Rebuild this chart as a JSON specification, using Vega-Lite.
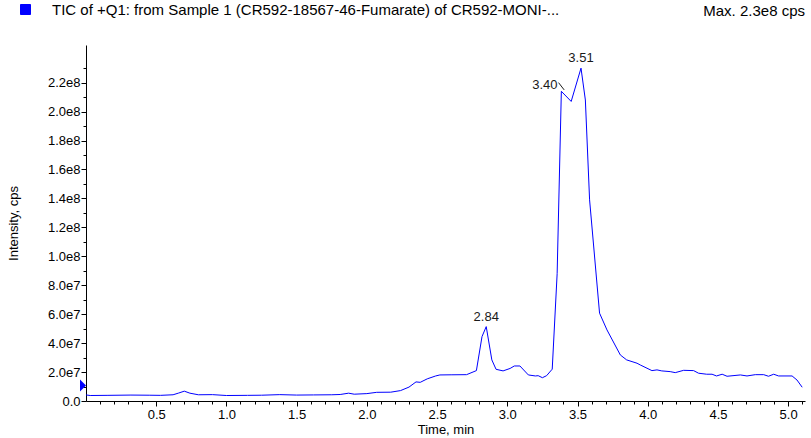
{
  "$schema": "https://vega.github.io/schema/vega-lite/v6.json",
  "width": 719,
  "height": 356,
  "autosize": {"type": "none"},
  "padding": {"left": 86, "top": 45, "right": 6, "bottom": 37},
  "background": "white",
  "config": {"font": "Liberation Sans", "view": {"stroke": null}},
  "title": {"text": "Max. 2.3e8 cps", "anchor": "end", "frame": "group", "fontSize": 15, "fontWeight": "normal", "color": "#000000", "offset": -17},
  "datasets": {
    "trace": [
      {"t": 0.0, "intensity": 4.2e6, "series": "TIC of +Q1: from Sample 1 (CR592-18567-46-Fumarate) of CR592-MONI-..."},
      {"t": 0.03, "intensity": 3.8e6, "series": "TIC of +Q1: from Sample 1 (CR592-18567-46-Fumarate) of CR592-MONI-..."},
      {"t": 0.15, "intensity": 3.9e6, "series": "TIC of +Q1: from Sample 1 (CR592-18567-46-Fumarate) of CR592-MONI-..."},
      {"t": 0.32, "intensity": 4.1e6, "series": "TIC of +Q1: from Sample 1 (CR592-18567-46-Fumarate) of CR592-MONI-..."},
      {"t": 0.45, "intensity": 4.0e6, "series": "TIC of +Q1: from Sample 1 (CR592-18567-46-Fumarate) of CR592-MONI-..."},
      {"t": 0.53, "intensity": 3.9e6, "series": "TIC of +Q1: from Sample 1 (CR592-18567-46-Fumarate) of CR592-MONI-..."},
      {"t": 0.62, "intensity": 4.3e6, "series": "TIC of +Q1: from Sample 1 (CR592-18567-46-Fumarate) of CR592-MONI-..."},
      {"t": 0.66, "intensity": 5.5e6, "series": "TIC of +Q1: from Sample 1 (CR592-18567-46-Fumarate) of CR592-MONI-..."},
      {"t": 0.70, "intensity": 6.8e6, "series": "TIC of +Q1: from Sample 1 (CR592-18567-46-Fumarate) of CR592-MONI-..."},
      {"t": 0.74, "intensity": 5.4e6, "series": "TIC of +Q1: from Sample 1 (CR592-18567-46-Fumarate) of CR592-MONI-..."},
      {"t": 0.80, "intensity": 4.3e6, "series": "TIC of +Q1: from Sample 1 (CR592-18567-46-Fumarate) of CR592-MONI-..."},
      {"t": 0.90, "intensity": 4.4e6, "series": "TIC of +Q1: from Sample 1 (CR592-18567-46-Fumarate) of CR592-MONI-..."},
      {"t": 1.00, "intensity": 3.8e6, "series": "TIC of +Q1: from Sample 1 (CR592-18567-46-Fumarate) of CR592-MONI-..."},
      {"t": 1.15, "intensity": 3.9e6, "series": "TIC of +Q1: from Sample 1 (CR592-18567-46-Fumarate) of CR592-MONI-..."},
      {"t": 1.25, "intensity": 4.0e6, "series": "TIC of +Q1: from Sample 1 (CR592-18567-46-Fumarate) of CR592-MONI-..."},
      {"t": 1.38, "intensity": 4.4e6, "series": "TIC of +Q1: from Sample 1 (CR592-18567-46-Fumarate) of CR592-MONI-..."},
      {"t": 1.50, "intensity": 4.1e6, "series": "TIC of +Q1: from Sample 1 (CR592-18567-46-Fumarate) of CR592-MONI-..."},
      {"t": 1.62, "intensity": 4.2e6, "series": "TIC of +Q1: from Sample 1 (CR592-18567-46-Fumarate) of CR592-MONI-..."},
      {"t": 1.75, "intensity": 4.3e6, "series": "TIC of +Q1: from Sample 1 (CR592-18567-46-Fumarate) of CR592-MONI-..."},
      {"t": 1.81, "intensity": 4.5e6, "series": "TIC of +Q1: from Sample 1 (CR592-18567-46-Fumarate) of CR592-MONI-..."},
      {"t": 1.87, "intensity": 5.4e6, "series": "TIC of +Q1: from Sample 1 (CR592-18567-46-Fumarate) of CR592-MONI-..."},
      {"t": 1.91, "intensity": 4.7e6, "series": "TIC of +Q1: from Sample 1 (CR592-18567-46-Fumarate) of CR592-MONI-..."},
      {"t": 2.00, "intensity": 5.1e6, "series": "TIC of +Q1: from Sample 1 (CR592-18567-46-Fumarate) of CR592-MONI-..."},
      {"t": 2.07, "intensity": 6.0e6, "series": "TIC of +Q1: from Sample 1 (CR592-18567-46-Fumarate) of CR592-MONI-..."},
      {"t": 2.17, "intensity": 6.1e6, "series": "TIC of +Q1: from Sample 1 (CR592-18567-46-Fumarate) of CR592-MONI-..."},
      {"t": 2.24, "intensity": 7.2e6, "series": "TIC of +Q1: from Sample 1 (CR592-18567-46-Fumarate) of CR592-MONI-..."},
      {"t": 2.30, "intensity": 9.6e6, "series": "TIC of +Q1: from Sample 1 (CR592-18567-46-Fumarate) of CR592-MONI-..."},
      {"t": 2.35, "intensity": 13.2e6, "series": "TIC of +Q1: from Sample 1 (CR592-18567-46-Fumarate) of CR592-MONI-..."},
      {"t": 2.38, "intensity": 12.9e6, "series": "TIC of +Q1: from Sample 1 (CR592-18567-46-Fumarate) of CR592-MONI-..."},
      {"t": 2.43, "intensity": 15.3e6, "series": "TIC of +Q1: from Sample 1 (CR592-18567-46-Fumarate) of CR592-MONI-..."},
      {"t": 2.49, "intensity": 17.3e6, "series": "TIC of +Q1: from Sample 1 (CR592-18567-46-Fumarate) of CR592-MONI-..."},
      {"t": 2.52, "intensity": 18.0e6, "series": "TIC of +Q1: from Sample 1 (CR592-18567-46-Fumarate) of CR592-MONI-..."},
      {"t": 2.60, "intensity": 18.1e6, "series": "TIC of +Q1: from Sample 1 (CR592-18567-46-Fumarate) of CR592-MONI-..."},
      {"t": 2.71, "intensity": 18.2e6, "series": "TIC of +Q1: from Sample 1 (CR592-18567-46-Fumarate) of CR592-MONI-..."},
      {"t": 2.78, "intensity": 21.0e6, "series": "TIC of +Q1: from Sample 1 (CR592-18567-46-Fumarate) of CR592-MONI-..."},
      {"t": 2.82, "intensity": 44.5e6, "series": "TIC of +Q1: from Sample 1 (CR592-18567-46-Fumarate) of CR592-MONI-..."},
      {"t": 2.85, "intensity": 51.4e6, "series": "TIC of +Q1: from Sample 1 (CR592-18567-46-Fumarate) of CR592-MONI-..."},
      {"t": 2.89, "intensity": 28.4e6, "series": "TIC of +Q1: from Sample 1 (CR592-18567-46-Fumarate) of CR592-MONI-..."},
      {"t": 2.92, "intensity": 21.9e6, "series": "TIC of +Q1: from Sample 1 (CR592-18567-46-Fumarate) of CR592-MONI-..."},
      {"t": 2.97, "intensity": 20.8e6, "series": "TIC of +Q1: from Sample 1 (CR592-18567-46-Fumarate) of CR592-MONI-..."},
      {"t": 3.02, "intensity": 22.5e6, "series": "TIC of +Q1: from Sample 1 (CR592-18567-46-Fumarate) of CR592-MONI-..."},
      {"t": 3.05, "intensity": 24.2e6, "series": "TIC of +Q1: from Sample 1 (CR592-18567-46-Fumarate) of CR592-MONI-..."},
      {"t": 3.09, "intensity": 24.2e6, "series": "TIC of +Q1: from Sample 1 (CR592-18567-46-Fumarate) of CR592-MONI-..."},
      {"t": 3.15, "intensity": 18.0e6, "series": "TIC of +Q1: from Sample 1 (CR592-18567-46-Fumarate) of CR592-MONI-..."},
      {"t": 3.20, "intensity": 17.3e6, "series": "TIC of +Q1: from Sample 1 (CR592-18567-46-Fumarate) of CR592-MONI-..."},
      {"t": 3.22, "intensity": 17.5e6, "series": "TIC of +Q1: from Sample 1 (CR592-18567-46-Fumarate) of CR592-MONI-..."},
      {"t": 3.25, "intensity": 16.1e6, "series": "TIC of +Q1: from Sample 1 (CR592-18567-46-Fumarate) of CR592-MONI-..."},
      {"t": 3.28, "intensity": 17.5e6, "series": "TIC of +Q1: from Sample 1 (CR592-18567-46-Fumarate) of CR592-MONI-..."},
      {"t": 3.32, "intensity": 22.0e6, "series": "TIC of +Q1: from Sample 1 (CR592-18567-46-Fumarate) of CR592-MONI-..."},
      {"t": 3.355, "intensity": 88e6, "series": "TIC of +Q1: from Sample 1 (CR592-18567-46-Fumarate) of CR592-MONI-..."},
      {"t": 3.385, "intensity": 214e6, "series": "TIC of +Q1: from Sample 1 (CR592-18567-46-Fumarate) of CR592-MONI-..."},
      {"t": 3.455, "intensity": 207e6, "series": "TIC of +Q1: from Sample 1 (CR592-18567-46-Fumarate) of CR592-MONI-..."},
      {"t": 3.525, "intensity": 230e6, "series": "TIC of +Q1: from Sample 1 (CR592-18567-46-Fumarate) of CR592-MONI-..."},
      {"t": 3.556, "intensity": 208e6, "series": "TIC of +Q1: from Sample 1 (CR592-18567-46-Fumarate) of CR592-MONI-..."},
      {"t": 3.586, "intensity": 139e6, "series": "TIC of +Q1: from Sample 1 (CR592-18567-46-Fumarate) of CR592-MONI-..."},
      {"t": 3.657, "intensity": 60.7e6, "series": "TIC of +Q1: from Sample 1 (CR592-18567-46-Fumarate) of CR592-MONI-..."},
      {"t": 3.71, "intensity": 49.1e6, "series": "TIC of +Q1: from Sample 1 (CR592-18567-46-Fumarate) of CR592-MONI-..."},
      {"t": 3.805, "intensity": 31.8e6, "series": "TIC of +Q1: from Sample 1 (CR592-18567-46-Fumarate) of CR592-MONI-..."},
      {"t": 3.85, "intensity": 28.4e6, "series": "TIC of +Q1: from Sample 1 (CR592-18567-46-Fumarate) of CR592-MONI-..."},
      {"t": 3.924, "intensity": 26.1e6, "series": "TIC of +Q1: from Sample 1 (CR592-18567-46-Fumarate) of CR592-MONI-..."},
      {"t": 3.947, "intensity": 24.9e6, "series": "TIC of +Q1: from Sample 1 (CR592-18567-46-Fumarate) of CR592-MONI-..."},
      {"t": 4.03, "intensity": 21.0e6, "series": "TIC of +Q1: from Sample 1 (CR592-18567-46-Fumarate) of CR592-MONI-..."},
      {"t": 4.066, "intensity": 21.5e6, "series": "TIC of +Q1: from Sample 1 (CR592-18567-46-Fumarate) of CR592-MONI-..."},
      {"t": 4.10, "intensity": 20.8e6, "series": "TIC of +Q1: from Sample 1 (CR592-18567-46-Fumarate) of CR592-MONI-..."},
      {"t": 4.16, "intensity": 20.3e6, "series": "TIC of +Q1: from Sample 1 (CR592-18567-46-Fumarate) of CR592-MONI-..."},
      {"t": 4.196, "intensity": 19.6e6, "series": "TIC of +Q1: from Sample 1 (CR592-18567-46-Fumarate) of CR592-MONI-..."},
      {"t": 4.256, "intensity": 21.2e6, "series": "TIC of +Q1: from Sample 1 (CR592-18567-46-Fumarate) of CR592-MONI-..."},
      {"t": 4.327, "intensity": 21.0e6, "series": "TIC of +Q1: from Sample 1 (CR592-18567-46-Fumarate) of CR592-MONI-..."},
      {"t": 4.362, "intensity": 19.2e6, "series": "TIC of +Q1: from Sample 1 (CR592-18567-46-Fumarate) of CR592-MONI-..."},
      {"t": 4.42, "intensity": 18.5e6, "series": "TIC of +Q1: from Sample 1 (CR592-18567-46-Fumarate) of CR592-MONI-..."},
      {"t": 4.458, "intensity": 18.5e6, "series": "TIC of +Q1: from Sample 1 (CR592-18567-46-Fumarate) of CR592-MONI-..."},
      {"t": 4.49, "intensity": 17.3e6, "series": "TIC of +Q1: from Sample 1 (CR592-18567-46-Fumarate) of CR592-MONI-..."},
      {"t": 4.53, "intensity": 18.5e6, "series": "TIC of +Q1: from Sample 1 (CR592-18567-46-Fumarate) of CR592-MONI-..."},
      {"t": 4.565, "intensity": 17.1e6, "series": "TIC of +Q1: from Sample 1 (CR592-18567-46-Fumarate) of CR592-MONI-..."},
      {"t": 4.66, "intensity": 18.0e6, "series": "TIC of +Q1: from Sample 1 (CR592-18567-46-Fumarate) of CR592-MONI-..."},
      {"t": 4.707, "intensity": 17.3e6, "series": "TIC of +Q1: from Sample 1 (CR592-18567-46-Fumarate) of CR592-MONI-..."},
      {"t": 4.766, "intensity": 18.2e6, "series": "TIC of +Q1: from Sample 1 (CR592-18567-46-Fumarate) of CR592-MONI-..."},
      {"t": 4.826, "intensity": 18.2e6, "series": "TIC of +Q1: from Sample 1 (CR592-18567-46-Fumarate) of CR592-MONI-..."},
      {"t": 4.86, "intensity": 17.1e6, "series": "TIC of +Q1: from Sample 1 (CR592-18567-46-Fumarate) of CR592-MONI-..."},
      {"t": 4.897, "intensity": 18.5e6, "series": "TIC of +Q1: from Sample 1 (CR592-18567-46-Fumarate) of CR592-MONI-..."},
      {"t": 4.932, "intensity": 17.3e6, "series": "TIC of +Q1: from Sample 1 (CR592-18567-46-Fumarate) of CR592-MONI-..."},
      {"t": 5.028, "intensity": 17.3e6, "series": "TIC of +Q1: from Sample 1 (CR592-18567-46-Fumarate) of CR592-MONI-..."},
      {"t": 5.063, "intensity": 14.5e6, "series": "TIC of +Q1: from Sample 1 (CR592-18567-46-Fumarate) of CR592-MONI-..."},
      {"t": 5.10, "intensity": 9.5e6, "series": "TIC of +Q1: from Sample 1 (CR592-18567-46-Fumarate) of CR592-MONI-..."}
    ],
    "peaks": [
      {"t": 2.85, "intensity": 51.4e6, "label": "2.84"},
      {"t": 3.525, "intensity": 230e6, "label": "3.51"}
    ],
    "leader": [
      {"t": 3.365, "t2": 3.405, "intensity": 220e6, "intensity2": 215e6, "label": "3.40"}
    ],
    "marker": [
      {"t": 0.0, "intensity": 10.7e6}
    ]
  },
  "resolve": {"axis": {"x": "independent", "y": "independent"}},
  "layer": [
    {
      "data": {"name": "trace"},
      "mark": {"type": "line", "strokeWidth": 1, "interpolate": "linear"},
      "encoding": {
        "x": {
          "field": "t", "type": "quantitative",
          "scale": {"domain": [0, 5.12], "nice": false, "zero": false},
          "axis": {
            "orient": "bottom",
            "title": "Time, min",
            "values": [0.5,1.0,1.5,2.0,2.5,3.0,3.5,4.0,4.5,5.0],
            "format": ".1f",
            "tickSize": 5,
            "grid": false,
            "domainColor": "#000000", "tickColor": "#000000",
            "labelColor": "#000000", "titleColor": "#000000",
            "labelFontSize": 13, "titleFontSize": 13, "titleFontWeight": "normal",
            "labelPadding": 2, "titlePadding": 2, "labelFlush": false, "labelOverlap": false
          }
        },
        "y": {
          "field": "intensity", "type": "quantitative",
          "scale": {"domain": [0, 2.46e8], "nice": false},
          "axis": {
            "orient": "left",
            "title": "Intensity, cps",
            "values": [0,2e7,4e7,6e7,8e7,1e8,1.2e8,1.4e8,1.6e8,1.8e8,2e8,2.2e8],
            "labelExpr": "datum.value == 0 ? '0.0' : (datum.value < 100000000 ? format(datum.value/10000000, '.1f') + 'e7' : format(datum.value/100000000, '.1f') + 'e8')",
            "tickSize": 5,
            "grid": false,
            "domainColor": "#000000", "tickColor": "#000000",
            "labelColor": "#000000", "titleColor": "#000000",
            "labelFontSize": 13, "titleFontSize": 13, "titleFontWeight": "normal",
            "labelPadding": 1, "titlePadding": 27, "labelOverlap": false, "labelFlush": false
          }
        },
        "color": {
          "field": "series", "type": "nominal",
          "scale": {"range": ["#0000ff"]},
          "legend": {
            "title": null, "orient": "none", "legendX": -68, "legendY": -43,
            "symbolType": "square", "symbolSize": 100, "symbolStrokeWidth": 1,
            "symbolFillColor": "#0000ff", "symbolStrokeColor": "#000066",
            "labelFontSize": 15, "labelColor": "#000000", "labelLimit": 0, "labelOffset": 19,
            "padding": 0,
            "symbolOpacity": 1
          }
        }
      }
    },
    {
      "data": {"name": "marker"},
      "mark": {"type": "point", "shape": "M-0.5,-1L0.5,0L-0.5,1Z", "size": 144, "filled": true, "color": "#0000ff", "opacity": 1, "xOffset": -3},
      "encoding": {
        "x": {
          "field": "t", "type": "quantitative",
          "axis": {
            "orient": "bottom", "title": null, "labels": false, "domain": false,
            "values": [0.1,0.2,0.3,0.4,0.6,0.7,0.8,0.9,1.1,1.2,1.3,1.4,1.6,1.7,1.8,1.9,2.1,2.2,2.3,2.4,2.6,2.7,2.8,2.9,3.1,3.2,3.3,3.4,3.6,3.7,3.8,3.9,4.1,4.2,4.3,4.4,4.6,4.7,4.8,4.9,5.1],
            "tickSize": 3, "tickColor": "#000000", "grid": false
          }
        },
        "y": {
          "field": "intensity", "type": "quantitative",
          "axis": {
            "orient": "left", "title": null, "labels": false, "domain": false,
            "values": [1e7,3e7,5e7,7e7,9e7,1.1e8,1.3e8,1.5e8,1.7e8,1.9e8,2.1e8,2.3e8],
            "tickSize": 3, "tickColor": "#000000", "grid": false
          }
        }
      }
    },
    {
      "data": {"name": "peaks"},
      "mark": {"type": "text", "fontSize": 13, "color": "#1a1a1a", "align": "center", "baseline": "bottom", "dy": -3},
      "encoding": {
        "x": {"field": "t", "type": "quantitative", "axis": null},
        "y": {"field": "intensity", "type": "quantitative", "axis": null},
        "text": {"field": "label"}
      }
    },
    {
      "data": {"name": "leader"},
      "mark": {"type": "rule", "color": "#1a1a1a", "strokeWidth": 1},
      "encoding": {
        "x": {"field": "t", "type": "quantitative", "axis": null},
        "x2": {"field": "t2"},
        "y": {"field": "intensity", "type": "quantitative", "axis": null},
        "y2": {"field": "intensity2"}
      }
    },
    {
      "data": {"name": "leader"},
      "mark": {"type": "text", "fontSize": 13, "color": "#1a1a1a", "align": "right", "baseline": "middle", "dx": -1, "dy": 2},
      "encoding": {
        "x": {"field": "t", "type": "quantitative", "axis": null},
        "y": {"field": "intensity", "type": "quantitative", "axis": null},
        "text": {"field": "label"}
      }
    }
  ]
}
